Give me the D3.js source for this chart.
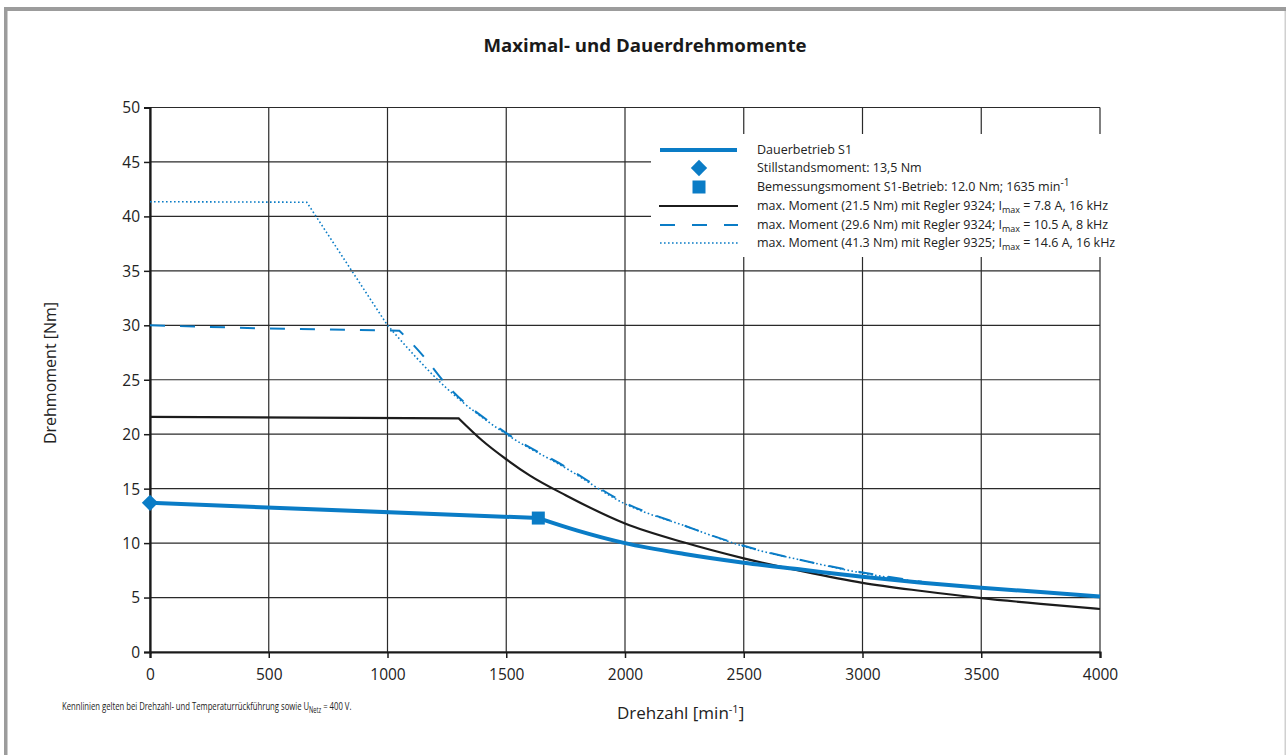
<!DOCTYPE html>
<html><head><meta charset="utf-8">
<script src="https://cdn.jsdelivr.net/npm/d3@7"></script>
<style>
html,body{margin:0;padding:0;background:#fff;}
svg{display:block;font-family:"Open Sans","Noto Sans",sans-serif;}
</style></head>
<body><svg id="chart" width="1286" height="755"></svg>
<script>
// ---- data ----
const speedTicks = [0,500,1000,1500,2000,2500,3000,3500,4000];
const torqueTicks = [0,5,10,15,20,25,30,35,40,45,50];

// Dauerbetrieb S1 (linear part up to rated point, then field-weakening curve)
const s1Speed  = [0, 1635, 1800, 2000, 2250, 2500, 2750, 3000, 3250, 3500, 3750, 4000];
const s1Torque = [13.7, 12.3, 11.15, 10.0, 9.0, 8.2, 7.55, 6.9, 6.35, 5.9, 5.5, 5.1];
const s1Corner = 1; // index where curve begins

// max. Moment 21.5 Nm, Regler 9324
const m9324aSpeed  = [0, 1300, 1400, 1500, 1600, 1750, 2000, 2250, 2500, 2750, 3000, 3250, 3500, 3750, 4000];
const m9324aTorque = [21.6, 21.45, 19.4, 17.7, 16.2, 14.4, 11.8, 10.05, 8.6, 7.4, 6.35, 5.6, 4.95, 4.42, 3.95];
const m9324aCorner = 1;

// max. Moment 29.6 Nm, Regler 9324
const m9324bSpeed  = [0, 500, 1050, 1100, 1150, 1250, 1500, 1750, 2000, 2250, 2500, 2750, 3000, 3250];
const m9324bTorque = [30.0, 29.7, 29.5, 28.4, 27.2, 24.5, 20.1, 17.0, 13.7, 11.6, 9.75, 8.4, 7.3, 6.45];
const m9324bCorner = 2;

// max. Moment 41.3 Nm, Regler 9325
const m9325Speed  = [0, 660, 1000, 1250, 1500, 1750, 2000, 2250, 2500, 2750, 3000, 3250];
const m9325Torque = [41.35, 41.3, 30.0, 24.2, 20.0, 16.9, 13.6, 11.6, 9.7, 8.4, 7.25, 6.4];
const m9325Corner = 2;

const stallPoint = {speed: 0, torque: 13.7};
const ratedPoint = {speed: 1635, torque: 12.3};

const legendLabels = [
  ["Dauerbetrieb S1"],
  ["Stillstandsmoment: 13,5 Nm"],
  ["Bemessungsmoment S1-Betrieb: 12.0 Nm; 1635 min", "sup:-1"],
  ["max. Moment (21.5 Nm) mit Regler 9324; I", "sub:max", " = 7.8 A, 16 kHz"],
  ["max. Moment (29.6 Nm) mit Regler 9324; I", "sub:max", " = 10.5 A, 8 kHz"],
  ["max. Moment (41.3 Nm) mit Regler 9325; I", "sub:max", " = 14.6 A, 16 kHz"]
];

const BLUE = "#0a7cc6";

// ---- drawing ----
const svg = d3.select("#chart");

// frame
svg.append("rect").attr("x",4).attr("y",7).attr("width",1282).attr("height",4).attr("fill","#9c9c9c");
svg.append("rect").attr("x",4).attr("y",7).attr("width",3.5).attr("height",748).attr("fill","#9c9c9c");
svg.append("rect").attr("x",1284.5).attr("y",11).attr("width",1.5).attr("height",744).attr("fill","#d0d0d0");

const x = d3.scaleLinear().domain([0,4000]).range([150,1100]);
const y = d3.scaleLinear().domain([0,50]).range([652,107.5]);

// grid
const g = svg.append("g");
g.selectAll("line.vg").data(speedTicks).join("line")
  .attr("x1",d=>x(d)).attr("x2",d=>x(d)).attr("y1",y(50)).attr("y2",y(0))
  .attr("stroke","#2a2a2a").attr("stroke-width",1.2);
g.selectAll("line.hg").data(torqueTicks).join("line")
  .attr("x1",x(0)).attr("x2",x(4000)).attr("y1",d=>y(d)).attr("y2",d=>y(d))
  .attr("stroke","#2a2a2a").attr("stroke-width",1.2);

// axes
const xAxis = svg.append("g").attr("transform",`translate(0,${y(0)})`)
  .call(d3.axisBottom(x).tickValues(speedTicks).tickSize(6).tickPadding(8).tickFormat(d3.format("d")));
const yAxis = svg.append("g").attr("transform",`translate(${x(0)},0)`)
  .call(d3.axisLeft(y).tickValues(torqueTicks).tickSize(6).tickPadding(4).tickFormat(d3.format("d")));
[xAxis,yAxis].forEach(a=>{
  a.select(".domain").attr("stroke","#1a1a1a").attr("stroke-width",2.2);
  a.selectAll(".tick line").attr("stroke","#1a1a1a").attr("stroke-width",1.5);
  a.selectAll(".tick text").attr("fill","#222").style("font-size","15.5px").style("font-family","'Open Sans',sans-serif");
});
xAxis.selectAll(".tick text").attr("dy","0.9em");
yAxis.selectAll(".tick text").attr("dy","0.35em");

const zip = (a,b)=>a.map((v,i)=>[v,b[i]]);
const lin = d3.line().x(d=>x(d[0])).y(d=>y(d[1]));
const crv = d3.line().x(d=>x(d[0])).y(d=>y(d[1])).curve(d3.curveMonotoneX);
function twoPart(sp, tq, corner){
  const pts = zip(sp,tq);
  const a = lin(pts.slice(0, corner+1));
  const b = crv(pts.slice(corner)).replace(/^M/,"L");
  return a + b;
}

// curves
svg.append("path").attr("d",twoPart(m9325Speed,m9325Torque,m9325Corner))
  .attr("fill","none").attr("stroke",BLUE).attr("stroke-width",1.6).attr("stroke-dasharray","1.6,2.4");
svg.append("path").attr("d",twoPart(m9324bSpeed,m9324bTorque,m9324bCorner))
  .attr("fill","none").attr("stroke",BLUE).attr("stroke-width",2).attr("stroke-dasharray","15,15");
svg.append("path").attr("d",twoPart(m9324aSpeed,m9324aTorque,m9324aCorner))
  .attr("fill","none").attr("stroke","#1c1c1c").attr("stroke-width",2.2);
svg.append("path").attr("d",twoPart(s1Speed,s1Torque,s1Corner))
  .attr("fill","none").attr("stroke",BLUE).attr("stroke-width",4);

// markers
svg.append("path").attr("d",d3.symbol(d3.symbolDiamond2,170)())
  .attr("transform",`translate(${x(stallPoint.speed)},${y(stallPoint.torque)})`).attr("fill",BLUE);
svg.append("rect").attr("x",x(ratedPoint.speed)-6.5).attr("y",y(ratedPoint.torque)-6.5)
  .attr("width",13).attr("height",13).attr("fill",BLUE);

// legend
const lg = svg.append("g");
lg.append("rect").attr("x",651).attr("y",134).attr("width",472).attr("height",123).attr("fill","#fff");
const rowsY = [150,168,187,206,225,243];
lg.append("line").attr("x1",660).attr("x2",737).attr("y1",rowsY[0]).attr("y2",rowsY[0]).attr("stroke",BLUE).attr("stroke-width",4);
lg.append("path").attr("d",d3.symbol(d3.symbolDiamond2,170)()).attr("transform",`translate(699,${rowsY[1]})`).attr("fill",BLUE);
lg.append("rect").attr("x",692.5).attr("y",rowsY[2]-6.5).attr("width",13).attr("height",13).attr("fill",BLUE);
lg.append("line").attr("x1",659).attr("x2",738).attr("y1",rowsY[3]).attr("y2",rowsY[3]).attr("stroke","#1c1c1c").attr("stroke-width",2.2);
lg.append("line").attr("x1",660).attr("x2",738).attr("y1",rowsY[4]).attr("y2",rowsY[4]).attr("stroke",BLUE).attr("stroke-width",2).attr("stroke-dasharray","15,17");
lg.append("line").attr("x1",660).attr("x2",738).attr("y1",rowsY[5]).attr("y2",rowsY[5]).attr("stroke",BLUE).attr("stroke-width",1.6).attr("stroke-dasharray","1.6,2.4");

legendLabels.forEach((parts,i)=>{
  const t = lg.append("text").attr("x",757).attr("y",rowsY[i]+4).attr("fill","#222").style("font-size","12.5px");
  let shifted = 0;
  parts.forEach(p=>{
    if (p.startsWith("sub:")) {
      t.append("tspan").text(p.slice(4)).attr("dy","3").style("font-size","9px"); shifted = 3;
    } else if (p.startsWith("sup:")) {
      t.append("tspan").text(p.slice(4)).attr("dy","-5").style("font-size","10px"); shifted = -5;
    } else {
      const ts = t.append("tspan").text(p);
      if (shifted) { ts.attr("dy", -shifted); shifted = 0; }
    }
  });
});

// title
svg.append("text").attr("x",645).attr("y",52).attr("text-anchor","middle")
  .attr("fill","#1a1a1a").style("font-size","17px").style("font-weight","700")
  .attr("textLength",323).attr("lengthAdjust","spacingAndGlyphs")
  .text("Maximal- und Dauerdrehmomente");

// axis titles
svg.append("text").attr("transform","translate(56,373) rotate(-90)").attr("text-anchor","middle")
  .attr("fill","#222").style("font-size","16px").text("Drehmoment [Nm]");
const xt = svg.append("text").attr("x",617).attr("y",719).attr("fill","#222").style("font-size","17px");
xt.append("tspan").text("Drehzahl [min");
xt.append("tspan").text("-1").attr("dy","-6").style("font-size","11px");
xt.append("tspan").text("]").attr("dy","6");

// footnote (condensed by horizontal scaling of its group)
const fg = svg.append("g");
const fn = fg.append("text").attr("x",0).attr("y",0).attr("fill","#222").style("font-size","11.5px");
fn.append("tspan").text("Kennlinien gelten bei Drehzahl- und Temperaturrückführung sowie U");
fn.append("tspan").text("Netz").attr("dy","3").style("font-size","8.5px");
fn.append("tspan").text(" = 400 V.").attr("dy","-3");
const fnLen = fn.node().getComputedTextLength() || 380;
fg.attr("transform",`translate(62,710) scale(${290/fnLen},1)`);
</script></body></html>
